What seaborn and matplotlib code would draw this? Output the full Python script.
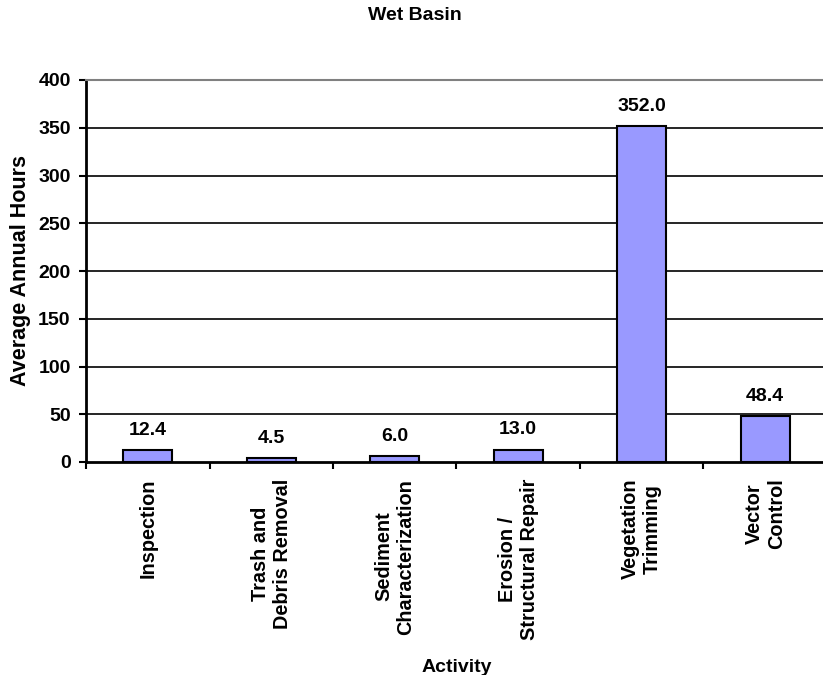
import matplotlib
matplotlib.use("Agg")
import matplotlib.pyplot as plt
import seaborn as sns
import pandas as pd
import numpy as np

# Wet basin maintenance: average annual hours per activity
activities = [
    "Inspection",
    "Trash and\nDebris Removal",
    "Sediment\nCharacterization",
    "Erosion /\nStructural Repair",
    "Vegetation\nTrimming",
    "Vector\nControl",
]
hours = [12.4, 4.5, 6.0, 13.0, 352.0, 48.4]
y_ticks = [0, 50, 100, 150, 200, 250, 300, 350, 400]

df = pd.DataFrame({"Activity": activities, "Hours": hours})

sns.set_theme(style="white")
plt.rcParams["font.family"] = ["Liberation Sans", "DejaVu Sans"]
plt.rcParams["font.weight"] = "bold"
for key in ["text.color", "axes.labelcolor", "xtick.color", "ytick.color"]:
    plt.rcParams[key] = "black"

fig = plt.figure(figsize=(8.23, 6.75), dpi=100)
ax = fig.add_axes([86 / 823, 213 / 675, 741 / 823, 382 / 675])

sns.barplot(data=df, x="Activity", y="Hours", ax=ax, color="#9999FF",
            saturation=1, width=0.4, edgecolor="black", linewidth=1.5,
            zorder=3)

ax.set_ylim(0, 400)
ax.set_xlim(-0.5, len(activities) - 0.5)
ax.set_yticks(y_ticks)
ax.set_yticklabels([str(t) for t in y_ticks], fontsize=14, fontweight="bold")

# horizontal gridlines
for t in y_ticks[1:-1]:
    ax.axhline(t, color="black", linewidth=1.2, zorder=1)

# category labels, rotated and centred line by line
ax.set_xticks(range(len(activities)))
ax.set_xticklabels(activities, rotation=90, ha="center", va="top",
                   multialignment="center", fontsize=14.3, fontweight="bold")
ax.tick_params(axis="x", which="major", length=0, pad=12)
ax.set_xticks(np.arange(-0.5, len(activities) + 0.5, 1), minor=True)
ax.tick_params(axis="x", which="minor", direction="out", length=5,
               width=1.5, color="black", bottom=True)
ax.tick_params(axis="y", which="major", direction="out", length=5,
               width=1.5, color="black", left=True, pad=6)

for side in ["left", "bottom"]:
    ax.spines[side].set_color("black")
    ax.spines[side].set_linewidth(2)
ax.spines["top"].set_color("#808080")
ax.spines["top"].set_linewidth(1.5)
ax.spines["right"].set_visible(False)

# value labels above bars
for i, v in enumerate(hours):
    ax.annotate(f"{v:.1f}", (i, v), xytext=(0, 8), textcoords="offset points",
                ha="center", va="bottom", fontsize=14, fontweight="bold",
                color="black")

ax.set_xlabel("Activity", fontsize=14, fontweight="bold", labelpad=14)
ax.set_ylabel("Average Annual Hours", fontsize=15.5, fontweight="bold",
              labelpad=5)
fig.text(415 / 823, 1 - 15 / 675, "Wet Basin", ha="center", va="center",
         fontsize=14, fontweight="bold", color="black")

fig.savefig("out.png", dpi=100)
